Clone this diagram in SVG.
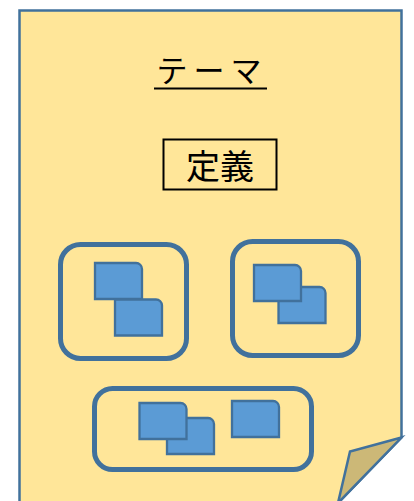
<svg xmlns="http://www.w3.org/2000/svg" width="414" height="501" viewBox="0 0 414 501">
<style>
.page{fill:#FFE699;stroke:#41719C;stroke-width:2.5;stroke-linejoin:miter}
.fold{fill:#CCB877;stroke:#41719C;stroke-width:2.5;stroke-linejoin:miter}
.grp{fill:none;stroke:#41719C;stroke-width:5}
.card{fill:#5B9BD5;stroke:#41719C;stroke-width:2.3}
.t{font-family:"Noto Sans CJK JP","Noto Sans CJK SC",sans-serif;fill:#000}
</style>
<defs>
<path id="card" d="M0,0 H41 A6,6 0 0 1 47,6 V36 H0 Z"/>
</defs>
<g id="page">
<path class="page" d="M19.5,10.5 H401.5 V437.5 L338,503 H19.5 Z"/>
<path class="fold" d="M401.5,437.5 L350,451.5 L338,503 Z"/>
</g>
<g id="title">
<text class="t" x="212" y="82" font-size="31" text-anchor="middle" letter-spacing="6">テーマ</text>
<line x1="154" y1="88.5" x2="267" y2="88.5" stroke="#000" stroke-width="2"/>
</g>
<g id="definition">
<rect x="163.5" y="139.5" width="113" height="50" fill="none" stroke="#000" stroke-width="2"/>
<text class="t" x="220" y="179" font-size="34" text-anchor="middle">定義</text>
</g>
<g id="group1">
<rect class="grp" x="60.5" y="244.5" width="126" height="114" rx="20"/>
<use href="#card" class="card" x="95" y="263"/>
<use href="#card" class="card" x="115" y="299.5"/>
</g>
<g id="group2">
<rect class="grp" x="232.5" y="241.5" width="126" height="114" rx="20"/>
<use href="#card" class="card" x="278.5" y="287"/>
<use href="#card" class="card" x="254" y="265"/>
</g>
<g id="group3">
<rect class="grp" x="94.5" y="388.5" width="217" height="81" rx="18"/>
<use href="#card" class="card" x="167" y="418"/>
<use href="#card" class="card" x="139.5" y="403"/>
<use href="#card" class="card" x="232" y="401"/>
</g>
<g id="connectors"/>
</svg>
